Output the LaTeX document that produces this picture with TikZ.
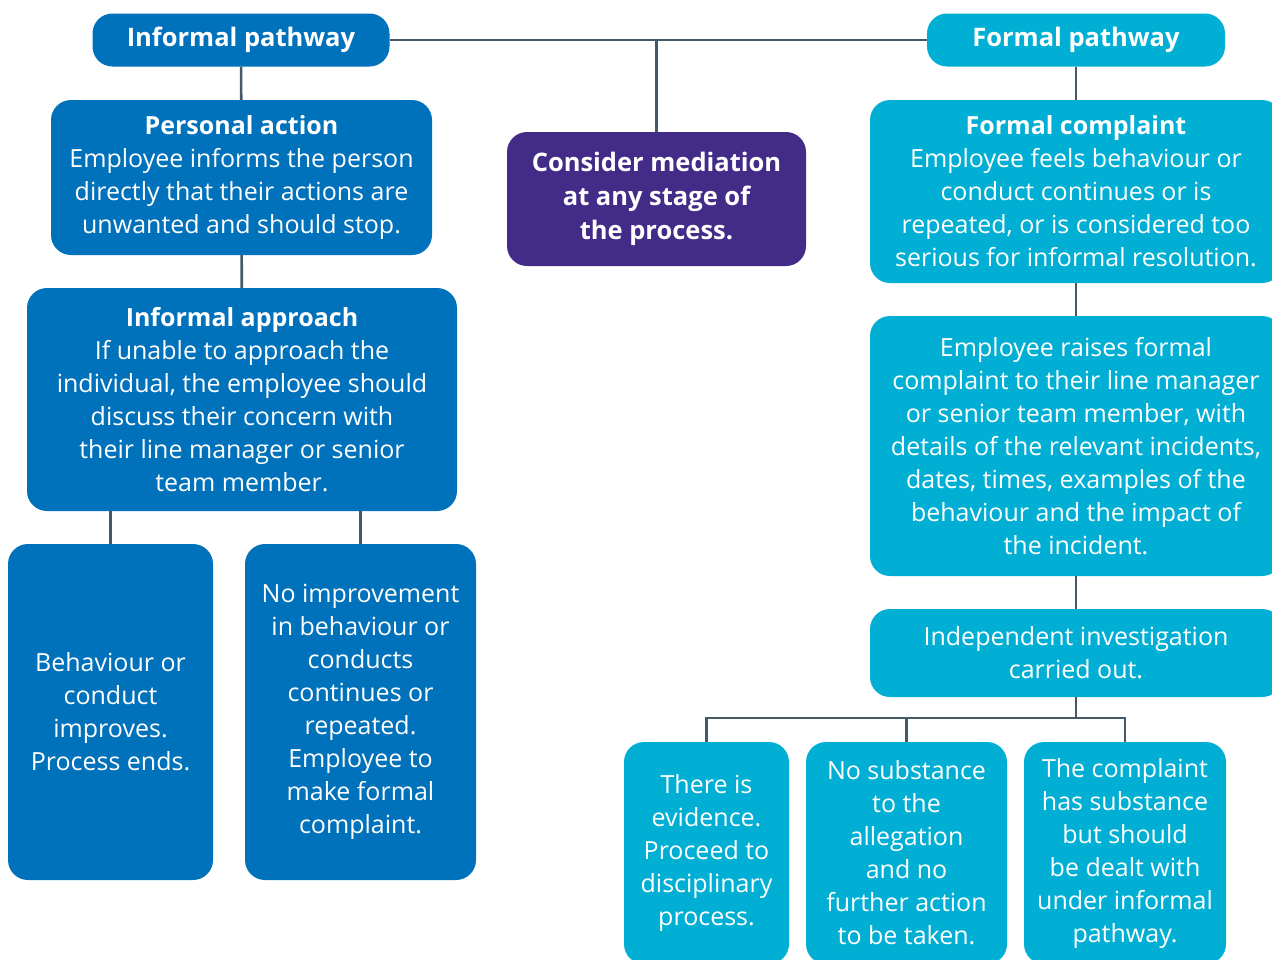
\documentclass[tikz,border=0pt]{standalone}
\usepackage{fontspec}
\setmainfont{Open Sans}
\usepackage{tikz}
\usetikzlibrary{positioning}

\definecolor{darkblue}{HTML}{0071BB}
\definecolor{teal}{HTML}{00AFD3}
\definecolor{purple}{HTML}{432C87}
\definecolor{linkgray}{HTML}{455A69}

\tikzset{
  box/.style={rectangle, rounded corners=20pt, text=white, align=center, inner sep=0pt,
    font=\fontsize{25}{33}\selectfont},
  darkbox/.style={box, fill=darkblue},
  tealbox/.style={box, fill=teal},
  purplebox/.style={box, fill=purple, font=\fontsize{25.5}{34}\selectfont\bfseries},
  link/.style={draw=linkgray, line width=2.6pt}
}

\begin{document}
\begin{tikzpicture}[x=1pt, y=-1pt]
        \useasboundingbox (0,0) rectangle (1272,959);
        \clip (0,0) rectangle (1272,959);

        \node[darkbox, minimum width=297pt, minimum height=53pt] (informal) at (241,40) {\fontsize{25.5}{33}\selectfont\bfseries Informal pathway};
        \node[tealbox, minimum width=298pt, minimum height=53pt] (formal) at (1076,40) {\fontsize{25.5}{33}\selectfont\bfseries Formal pathway};
        \node[purplebox, minimum width=299pt, minimum height=134pt] (mediation) at (656.5,199) {Consider mediation\\at any stage of\\the process.};

        \node[darkbox, minimum width=381pt, minimum height=155pt] (personal) at (241.5,177.5)
            {\textbf{Personal action}\\Employee informs the person\\directly that their actions are\\unwanted and should stop.};
        \node[darkbox, minimum width=430pt, minimum height=223pt] (approach) at (242,399.5)
            {\textbf{Informal approach}\\If unable to approach the\\individual, the employee should\\discuss their concern with\\their line manager or senior\\team member.};
        \node[darkbox, minimum width=205pt, minimum height=336pt] (improves) at (110.5,712)
            {Behaviour or\\conduct\\improves.\\Process ends.};
        \node[darkbox, minimum width=231pt, minimum height=336pt] (noimprove) at (360.5,712)
            {No improvement\\in behaviour or\\conducts\\continues or\\repeated.\\Employee to\\make formal\\complaint.};

        \node[tealbox, minimum width=412pt, minimum height=183pt] (complaint) at (1076,191.5)
            {\textbf{Formal complaint}\\Employee feels behaviour or\\conduct continues or is\\repeated, or is considered too\\serious for informal resolution.};
        \node[tealbox, minimum width=412pt, minimum height=260pt] (raises) at (1076,446)
            {Employee raises formal\\complaint to their line manager\\or senior team member, with\\details of the relevant incidents,\\dates, times, examples of the\\behaviour and the impact of\\the incident.};
        \node[tealbox, minimum width=412pt, minimum height=88pt] (investigation) at (1076,653)
            {Independent investigation\\carried out.};
        \node[tealbox, minimum width=165pt, minimum height=222pt] (evidence) at (706.5,853)
            {There is\\evidence.\\Proceed to\\disciplinary\\process.};
        \node[tealbox, minimum width=201pt, minimum height=222pt] (nosubstance) at (906.5,853)
            {No substance\\to the\\allegation\\and no\\further action\\to be taken.};
        \node[tealbox, minimum width=202pt, minimum height=222pt] (substance) at (1125,853)
            {The complaint\\has substance\\but should\\be dealt with\\under informal\\pathway.};
        \coordinate (fork) at (1076,718);

        \draw[link] (informal) -- (formal);
        \draw[link] (mediation) -- (mediation |- informal);
        \draw[link] (informal) -- (personal);
        \draw[link] (personal) -- (approach);
        \draw[link] (improves) -- (improves |- approach.south);
        \draw[link] (noimprove) -- (noimprove |- approach.south);

        \draw[link] (formal) -- (complaint);
        \draw[link] (complaint) -- (raises);
        \draw[link] (raises) -- (investigation);
        \draw[link] (investigation) -- (fork);
        \draw[link] (evidence) |- (fork);
        \draw[link] (nosubstance) -- (nosubstance |- fork);
        \draw[link] (substance) |- (fork);
    \end{tikzpicture}
\end{document}
